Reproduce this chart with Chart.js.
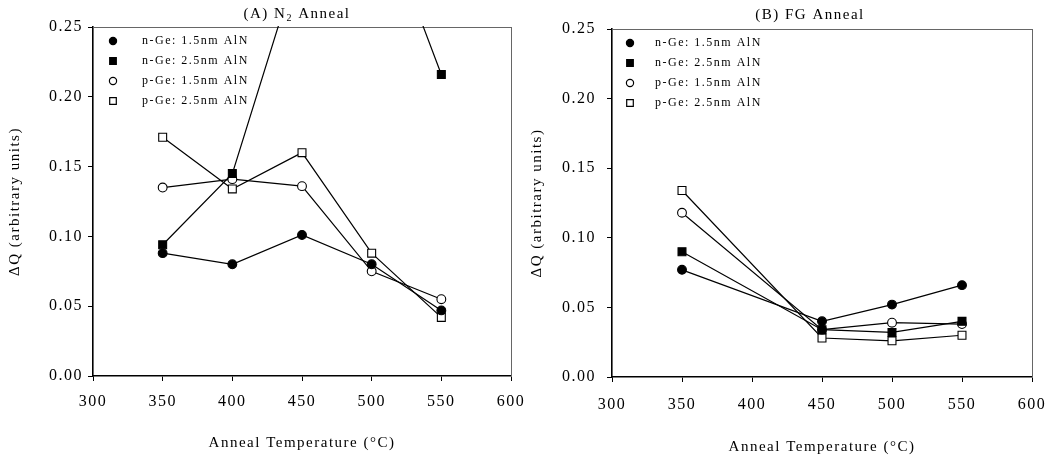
<!DOCTYPE html>
<html><head><meta charset="utf-8">
<script src="https://cdn.jsdelivr.net/npm/chart.js@4/dist/chart.umd.min.js"></script>
<style>
html,body{margin:0;padding:0;background:#fff;width:1049px;height:460px;overflow:hidden;}
.panel{position:absolute;top:0;height:460px;}
canvas{display:block;}
</style></head><body>
<div class="panel" style="left:0;width:530px"><canvas id="cA" width="530" height="460"></canvas></div>
<div class="panel" style="left:520px;width:529px"><canvas id="cB" width="529" height="460"></canvas></div>
<script>
// ---- data ----
const seriesNames = ['n-Ge: 1.5nm AlN', 'n-Ge: 2.5nm AlN', 'p-Ge: 1.5nm AlN', 'p-Ge: 2.5nm AlN'];

// (A) N2 anneal
const tempsA  = [350, 400, 450, 500, 550];
const nGe15A  = [0.088, 0.080, 0.101, 0.080, 0.047];
const nGe25A  = [0.094, 0.145, 0.305, 0.348, 0.216];
const pGe15A  = [0.135, 0.141, 0.136, 0.075, 0.055];
const pGe25A  = [0.171, 0.134, 0.160, 0.088, 0.042];

// (B) FG anneal
const tempsB  = [350, 450, 500, 550];
const nGe15B  = [0.077, 0.040, 0.052, 0.066];
const nGe25B  = [0.090, 0.034, 0.032, 0.040];
const pGe15B  = [0.118, 0.034, 0.039, 0.038];
const pGe25B  = [0.134, 0.028, 0.026, 0.030];

const xTickValues = [300, 350, 400, 450, 500, 550, 600];
const yTickValues = [0.00, 0.05, 0.10, 0.15, 0.20, 0.25];

const xTitle = 'Anneal Temperature (°C)';
const yTitle = 'ΔQ (arbitrary units)';

// ---- styling ----
const FONT = '"Liberation Serif", "Times New Roman", serif';
const markerStyles = [
  {style: 'circle', fill: '#000', r: 4.4},
  {style: 'rect',   fill: '#000', r: 5.6},
  {style: 'circle', fill: '#fff', r: 4.4},
  {style: 'rect',   fill: '#fff', r: 5.6}
];

function makeIcon(ms, w, cx) {
  const c = document.createElement('canvas');
  c.width = w; c.height = 12;
  const g = c.getContext('2d');
  g.fillStyle = ms.fill; g.strokeStyle = '#000'; g.lineWidth = 1.2;
  g.beginPath();
  if (ms.style === 'circle') g.arc(cx, 6, 3.6, 0, Math.PI * 2);
  else g.rect(cx - 3.3, 2.7, 6.6, 6.6);
  g.fill(); g.stroke();
  return c;
}

const spacingPlugin = {
  id: 'spacing',
  beforeLayout(chart) { chart.ctx.letterSpacing = '1.5px'; },
  afterLayout(chart) {
    // keep the in-plot legend anchored to the plot area's top edge
    if (chart.legend) {
      chart.legend.top = chart.chartArea.top;
      chart.legend.bottom = chart.chartArea.bottom;
    }
  },
  beforeDraw(chart) {
    chart.ctx.letterSpacing = '1.5px';
    if (chart.legend) {
      chart.legend.top = chart.chartArea.top;
      chart.legend.bottom = chart.chartArea.bottom;
    }
  }
};

function makeTitlePlugin(spec) {
  return {
    id: 'panelTitle',
    afterDraw(chart) {
      const ctx = chart.ctx;
      ctx.save();
      ctx.letterSpacing = '1.5px';
      ctx.fillStyle = '#000';
      ctx.textBaseline = 'middle';
      ctx.textAlign = 'left';
      const main = spec.size + 'px ' + FONT, sub = spec.subSize + 'px ' + FONT;
      let total = 0;
      const widths = spec.parts.map(p => {
        ctx.font = p.sub ? sub : main;
        const w = ctx.measureText(p.text).width; total += w; return w;
      });
      let x = spec.x - total / 2;
      spec.parts.forEach((p, i) => {
        ctx.font = p.sub ? sub : main;
        ctx.fillText(p.text, x, spec.y + (p.sub ? spec.subShift : 0));
        x += widths[i];
      });
      ctx.restore();
    }
  };
}

function makePanel(id, temps, series, L) {
  const icons = markerStyles.map(ms => makeIcon(ms, L.iconW, L.iconCx));
  const datasets = series.map((vals, i) => ({
    label: seriesNames[i],
    data: temps.map((t, k) => ({x: t, y: vals[k]})),
    borderColor: '#000',
    borderWidth: 1.2,
    pointStyle: markerStyles[i].style,
    pointRadius: markerStyles[i].r,
    pointHoverRadius: markerStyles[i].r,
    pointBackgroundColor: markerStyles[i].fill,
    pointBorderColor: '#000',
    pointBorderWidth: 1.1,
    fill: false,
    tension: 0,
    clip: 1
  }));
  return new Chart(document.getElementById(id), {
    type: 'line',
    data: {datasets},
    plugins: [spacingPlugin, makeTitlePlugin(L.title)],
    options: {
      responsive: false,
      animation: false,
      events: [],
      layout: {padding: {left: 0, top: L.top, right: L.right, bottom: 0}},
      plugins: {
        tooltip: {enabled: false},
        title: {display: false},
        legend: {
          display: true,
          position: 'chartArea',
          align: 'start',
          labels: {
            usePointStyle: true,
            pointStyleWidth: L.iconW,
            boxHeight: 12,
            padding: 8,
            color: '#000',
            font: {family: FONT, size: 12},
            generateLabels(chart) {
              const items = Chart.defaults.plugins.legend.labels.generateLabels(chart);
              items.forEach((it, i) => { it.pointStyle = icons[i]; });
              return items;
            }
          }
        }
      },
      scales: {
        x: {
          type: 'linear', position: 'bottom', min: 300, max: 600,
          afterBuildTicks: s => { s.ticks = xTickValues.map(v => ({value: v})); },
          ticks: {color: '#000', font: {family: FONT, size: 16}, padding: L.xTickPad,
                  maxRotation: 0, autoSkip: false, callback: v => String(v)},
          grid: {drawOnChartArea: false, drawTicks: true, tickLength: 5, color: '#000', lineWidth: 1},
          border: {display: true, color: '#000', width: 1.6},
          title: {display: true, text: xTitle, color: '#000', font: {family: FONT, size: 15},
                  padding: {top: 0, bottom: L.xTitlePad}},
          afterFit: s => { s.height = L.xH; s.paddingLeft = 0; s.paddingRight = 0; }
        },
        y: {
          type: 'linear', position: 'left', min: 0, max: 0.25,
          afterBuildTicks: s => { s.ticks = yTickValues.map(v => ({value: v})); },
          ticks: {color: '#000', font: {family: FONT, size: 16}, padding: L.yTickPad,
                  callback: v => Number(v).toFixed(2)},
          grid: {drawOnChartArea: false, drawTicks: true, tickLength: 5, color: '#000', lineWidth: 1},
          border: {display: true, color: '#000', width: 1.6},
          title: {display: true, text: yTitle, color: '#000', font: {family: FONT, size: 15},
                  padding: {top: L.yTitlePad, bottom: 0}},
          afterFit: s => { s.width = L.yW; s.paddingTop = 0; s.paddingBottom = 0; }
        },
        xTop: {
          type: 'linear', position: 'top', min: 300, max: 600, display: true,
          ticks: {display: false},
          grid: {display: false, drawTicks: false},
          border: {display: true, color: '#666', width: 1},
          afterFit: s => { s.height = 0; s.paddingLeft = 0; s.paddingRight = 0; }
        },
        yRight: {
          type: 'linear', position: 'right', min: 0, max: 0.25, display: true,
          ticks: {display: false},
          grid: {display: false, drawTicks: false},
          border: {display: true, color: '#666', width: 1},
          afterFit: s => { s.width = 0; s.paddingTop = 0; s.paddingBottom = 0; }
        }
      }
    }
  });
}

makePanel('cA', tempsA, [nGe15A, nGe25A, pGe15A, pGe25A], {
  top: 27, right: 19, xH: 84, yW: 93,
  xTickPad: 11, yTickPad: 5, xTitlePad: 8, yTitlePad: 6,
  iconW: 35, iconCx: 12,
  title: {parts: [{text: '(A) N'}, {text: '2', sub: true}, {text: ' Anneal'}],
          x: 297, y: 14, size: 15, subSize: 10, subShift: 4}
});

makePanel('cB', tempsB, [nGe15B, nGe25B, pGe15B, pGe25B], {
  top: 29, right: 17, xH: 83, yW: 92,
  xTickPad: 13, yTickPad: 11, xTitlePad: 4, yTitlePad: 8,
  iconW: 29, iconCx: 10,
  title: {parts: [{text: '(B) FG Anneal'}],
          x: 290, y: 15, size: 15, subSize: 10, subShift: 4}
});
</script>
</body></html>
